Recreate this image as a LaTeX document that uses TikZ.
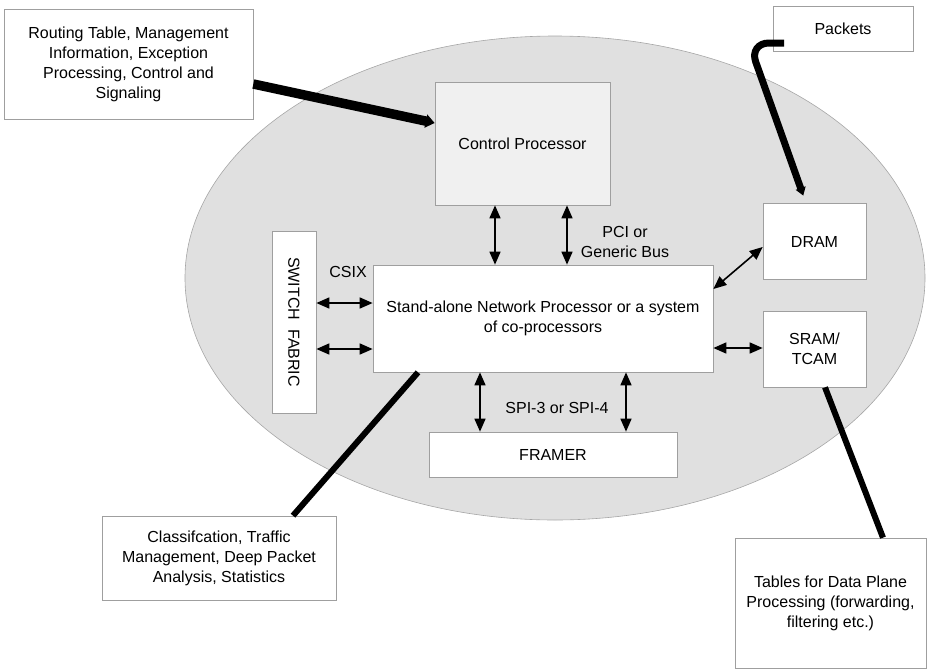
\documentclass[tikz,border=0pt]{standalone}
\usepackage{fontspec}
\setmainfont{Liberation Sans}
\usetikzlibrary{arrows.meta}
\begin{document}
\begin{tikzpicture}[x=1pt,y=-1pt,
  every node/.style={font=\fontsize{16}{20}\selectfont},
  box/.style={draw=gray!75, line width=0.7pt, fill=white, align=center, inner sep=2pt},
  dbl/.style={{Triangle[length=13pt,width=11pt]}-{Triangle[length=13pt,width=11pt]}, line width=1.6pt},
  heavy/.style={line width=6pt},
  lbl/.style={align=center, inner sep=0pt}
]
\useasboundingbox (0,0) rectangle (930,670);

% chip boundary
\path[fill=gray!24, draw=gray!70, line width=0.6pt] (555,278) ellipse [x radius=370, y radius=242];

% blocks
\node[box, minimum width=249pt, minimum height=110pt] (route) at (128.5,64)
  {Routing Table, Management\\Information, Exception\\Processing, Control and\\Signaling};
\node[box, fill=gray!12, minimum width=175pt, minimum height=123pt] (cp) at (522.5,143.5) {Control Processor};
\node[box, minimum width=140pt, minimum height=45pt] (pk) at (843,28.5) {Packets};
\node[box, minimum width=103pt, minimum height=76pt] (dram) at (814.5,241.5) {DRAM};
\node[box, minimum width=103pt, minimum height=76pt] (sram) at (814.5,349) {SRAM/\\TCAM};
\node[box, minimum width=340pt, minimum height=107pt] (np) at (543,318.5)
  {Stand-alone Network Processor or a system\\of co-processors};
\node[box, minimum width=44pt, minimum height=182pt] (sf) at (294,322) {};
\node[rotate=-90, inner sep=0pt] (sflbl) at (sf.center) {SWITCH~~FABRIC};
\node[box, minimum width=248pt, minimum height=45pt] (framer) at (553,454.5) {FRAMER};
\node[box, minimum width=234pt, minimum height=84pt] (cls) at (219,558)
  {Classifcation, Traffic\\Management, Deep Packet\\Analysis, Statistics};
\node[box, minimum width=191pt, minimum height=130pt] (tbl) at (830.5,603)
  {Tables for Data Plane\\Processing (forwarding,\\filtering etc.)};

% interface labels
\node[lbl] (csix) at (348,272) {CSIX};
\node[lbl] (pci) at (625,242) {PCI or\\Generic Bus};
\node[lbl] (spi) at (557,408) {SPI-3 or SPI-4};

% bidirectional links
\draw[dbl] (495,0 |- cp.south) -- (495,0 |- np.north);
\draw[dbl] (567,0 |- cp.south) -- (567,0 |- np.north);
\draw[dbl] (480,0 |- np.south) -- (480,0 |- framer.north);
\draw[dbl] (626,0 |- np.south) -- (626,0 |- framer.north);
\draw[dbl] (sf.east |- 0,303) -- (np.west |- 0,303);
\draw[dbl] (sf.east |- 0,349) -- (np.west |- 0,349);
\draw[dbl] (np.east |- 0,348) -- (sram.west |- 0,348);
\draw[dbl] (np.east |- 0,289) -- (dram.west |- 0,247);

% heavy feeds
\draw[line width=9.5pt, -{Triangle[length=9pt,width=13pt]}] (route.east |- 0,84) -- (cp.west |- 0,123);
\coordinate (pkport) at (784,43);
\draw[line width=7pt, -{Triangle[length=8pt,width=10pt]}, rounded corners=20pt, shorten >=8pt]
  (pkport) -- (749,43) -- (806,0 |- dram.north);
\draw[heavy] (293,0 |- cls.north) -- (418,0 |- np.south);
\draw[heavy] (883,0 |- tbl.north) -- (825,0 |- sram.south);
\end{tikzpicture}
\end{document}
